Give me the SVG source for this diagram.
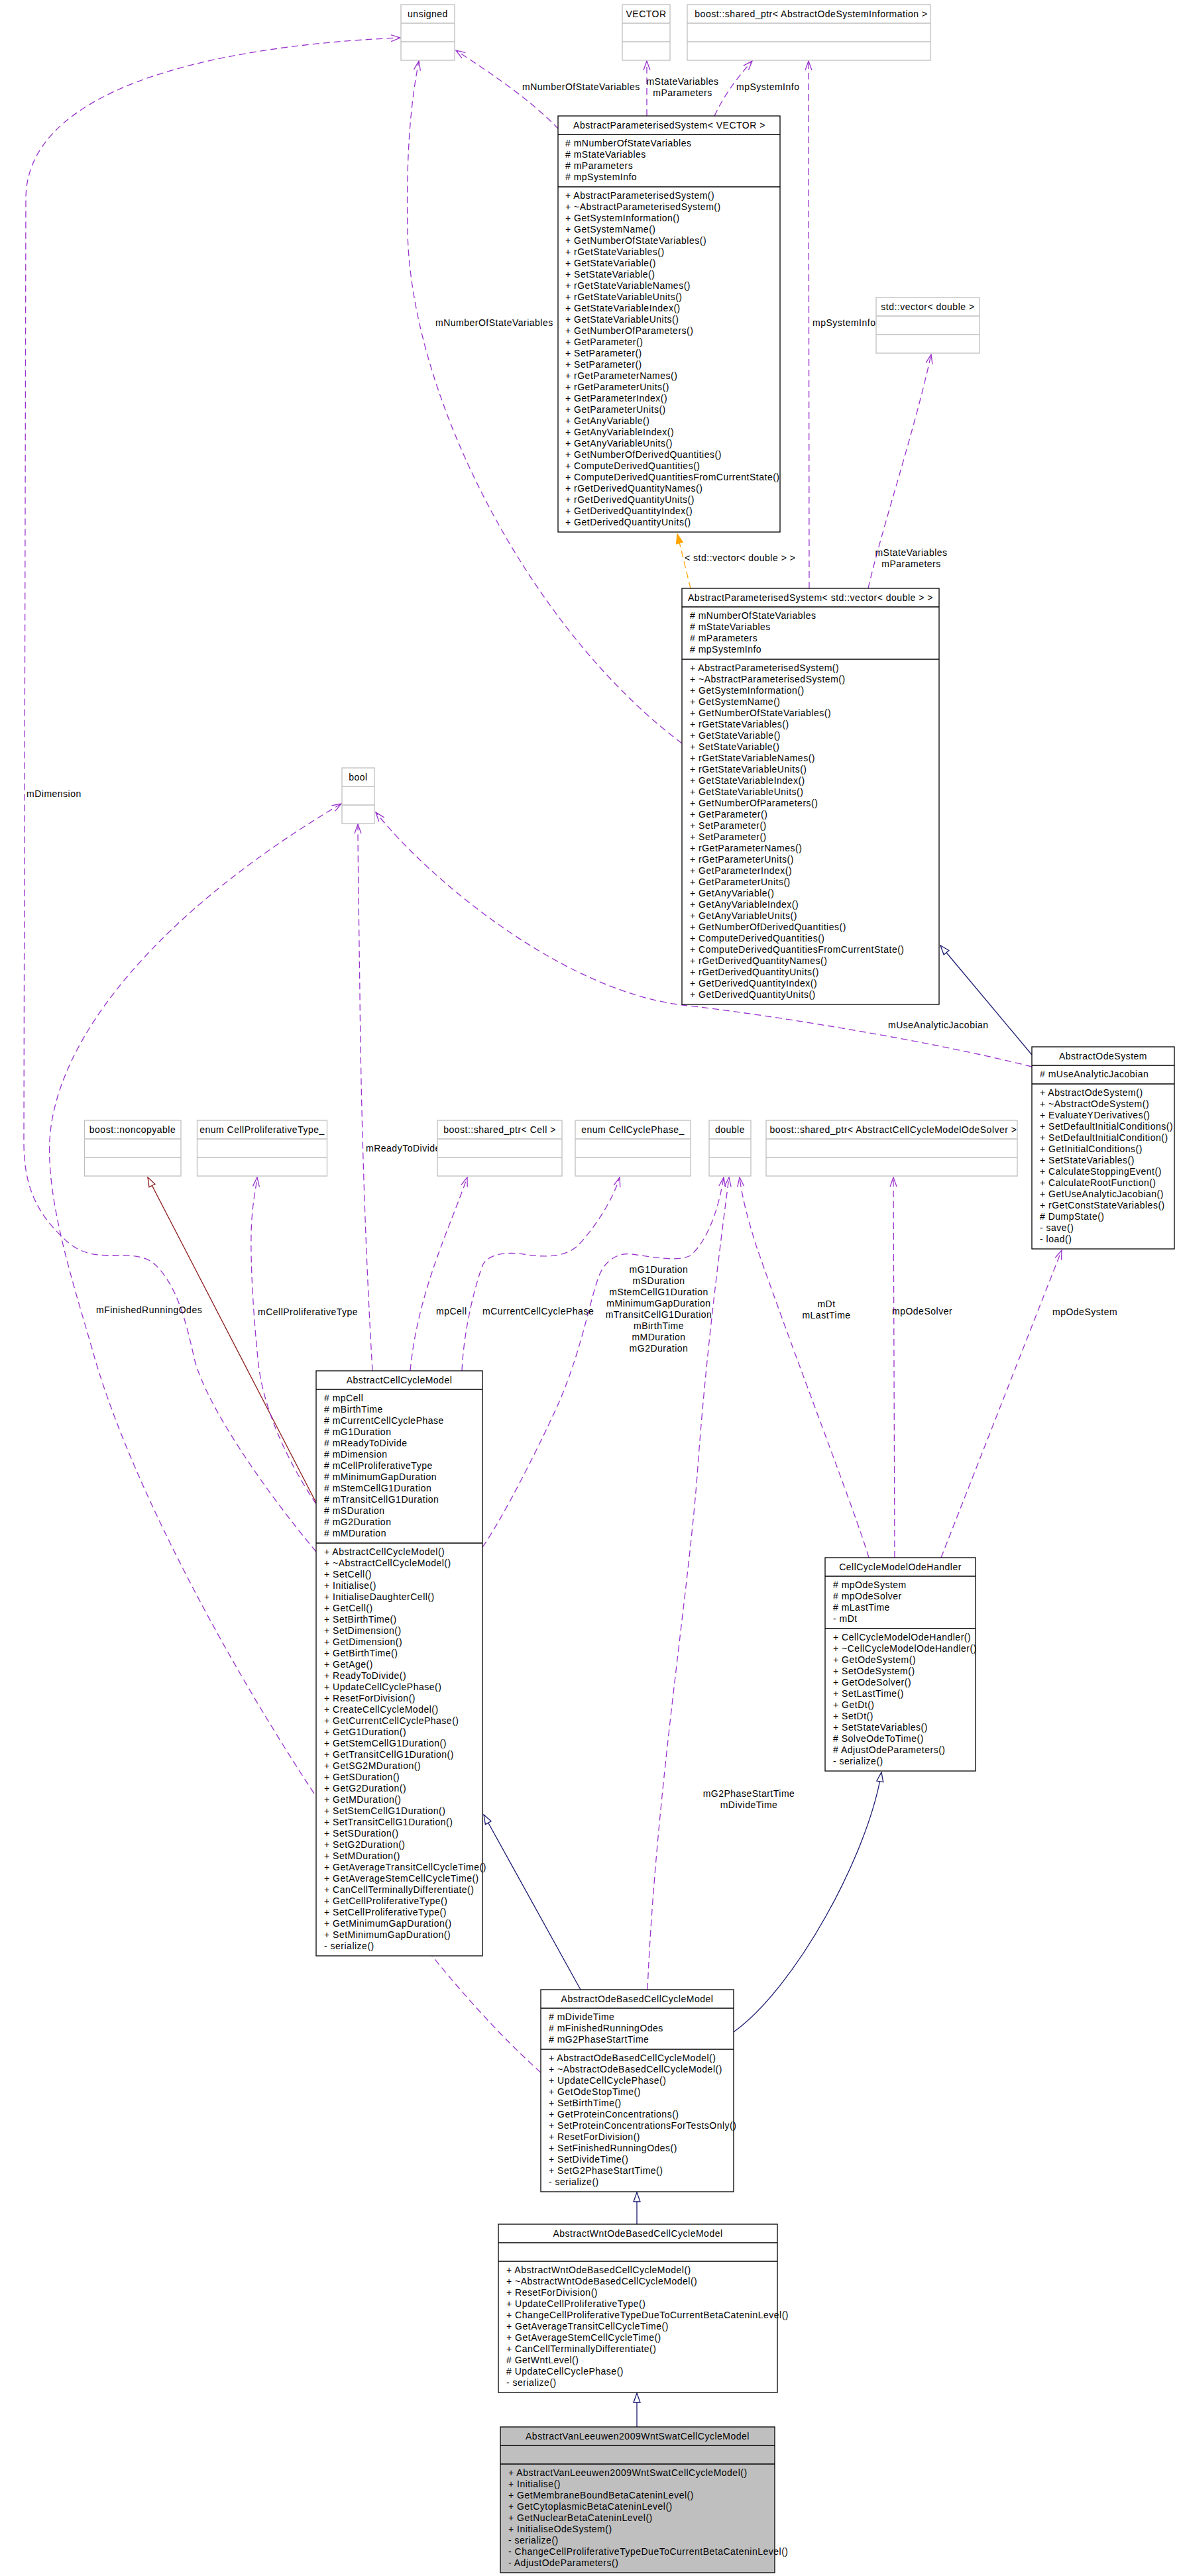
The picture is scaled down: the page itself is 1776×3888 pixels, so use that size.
<svg xmlns="http://www.w3.org/2000/svg" width="1776" height="3888" viewBox="0 0 1776 3888">
<style>
.t{font-family:"Liberation Sans",Arial,sans-serif;font-size:14px;letter-spacing:0.5px;fill:#000}
.m{text-anchor:middle}
.b{fill:#fff;stroke:#000;stroke-width:1.3}
.g{fill:#fff;stroke:#bfbfbf;stroke-width:1.3}
.gf{fill:#bfbfbf;stroke:#000;stroke-width:1.3}
.lk{stroke:#000;stroke-width:1.3}
.lg{stroke:#bfbfbf;stroke-width:1.3}
.u{fill:none;stroke:#9a32cd;stroke-width:1.3;stroke-dasharray:10,6;marker-end:url(#vee)}
.i{fill:none;stroke:#191970;stroke-width:1.3;marker-end:url(#tri)}
.r{fill:none;stroke:#8b1a1a;stroke-width:1.3;marker-end:url(#trir)}
.o{fill:none;stroke:#ffa500;stroke-width:1.3;stroke-dasharray:10,6;marker-end:url(#org)}
</style>
<defs>
<marker id="vee" markerUnits="userSpaceOnUse" viewBox="0 0 16 12" markerWidth="16" markerHeight="12" refX="15" refY="6" orient="auto"><path d="M1,1 L15,6 L1,11" fill="none" stroke="#9a32cd" stroke-width="1.3"/></marker>
<marker id="tri" markerUnits="userSpaceOnUse" viewBox="0 0 16 12" markerWidth="16" markerHeight="12" refX="15" refY="6" orient="auto"><path d="M1,1 L15,6 L1,11 Z" fill="#fff" stroke="#191970" stroke-width="1.3"/></marker>
<marker id="trir" markerUnits="userSpaceOnUse" viewBox="0 0 16 12" markerWidth="16" markerHeight="12" refX="15" refY="6" orient="auto"><path d="M1,1 L15,6 L1,11 Z" fill="#fff" stroke="#8b1a1a" stroke-width="1.3"/></marker>
<marker id="org" markerUnits="userSpaceOnUse" viewBox="0 0 16 12" markerWidth="16" markerHeight="12" refX="15" refY="6" orient="auto"><path d="M1,1 L15,6 L1,11 Z" fill="#ffa500" stroke="#ffa500" stroke-width="1.3"/></marker>
</defs>
<rect width="1776" height="3888" fill="#fff"/>

<g id="connectors">
<path class="u" d="M843,195 C800,150 740,110 688,76"/>
<path class="u" d="M976,175 L976,92"/>
<path class="u" d="M1078,175 C1092,145 1110,120 1135,92"/>
<path class="o" d="M1042,888 C1035,860 1028,830 1022,806"/>
<path class="u" d="M1221,888 L1220,92"/>
<path class="u" d="M1310,888 C1330,800 1380,650 1405,535"/>
<path class="u" d="M1029,1122 C800,950 620,600 615,350 C612,200 625,130 632,92"/>
<path class="u" d="M477,2342 C400,2250 310,2120 293,2050 C280,1990 265,1935 230,1905 C190,1880 140,1915 95,1868 C55,1830 36,1790 36,1724 L39,300 C39,140 300,70 604,57"/>
<path class="u" d="M816,3128 C560,2900 230,2350 143,2050 C115,1950 70,1820 75,1720 C85,1560 250,1370 515,1213"/>
<path class="u" d="M1557,1610 C1400,1570 1150,1530 1030,1517 C850,1495 650,1330 567,1226"/>
<path class="i" d="M1557,1592 L1419,1427"/>
<path class="r" d="M477,2268 L223,1777"/>
<path class="u" d="M477,2270 C430,2200 395,2120 389,2050 C380,1960 377,1880 380,1840 C382,1810 386,1795 388,1777"/>
<path class="u" d="M562,2069 C552,1900 545,1700 543,1500 C541,1350 540,1280 540,1244"/>
<path class="u" d="M619,2069 C630,1950 680,1850 705,1777"/>
<path class="u" d="M697,2069 C700,2000 720,1930 729,1908 C740,1890 770,1890 790,1893 C815,1897 850,1900 872,1880 C900,1850 925,1810 935,1777"/>
<path class="u" d="M728,2335 C760,2290 820,2170 845,2113 C880,2030 890,1960 905,1923 C915,1900 935,1890 954,1893 C985,1897 1020,1905 1042,1895 C1070,1870 1085,1820 1092,1777"/>
<path class="u" d="M977,3003 C990,2700 1040,2400 1053,2213 C1065,2050 1084,1900 1100,1777"/>
<path class="u" d="M1311,2351 C1290,2280 1200,2050 1141,1880 C1130,1845 1120,1810 1116,1777"/>
<path class="u" d="M1350,2351 L1348,1777"/>
<path class="u" d="M1420,2351 L1602,1887"/>
<path class="i" d="M876,3003 L730,2739"/>
<path class="i" d="M1107,3067 C1200,3000 1310,2800 1330,2675"/>
<path class="i" d="M961,3357 L961,3309"/>
<path class="i" d="M961,3663 L961,3612"/>
</g>

<g id="labels">
<text class="t" x="788" y="136">mNumberOfStateVariables</text>
<text class="t m" x="1030" y="128">mStateVariables</text>
<text class="t m" x="1030" y="145">mParameters</text>
<text class="t" x="1111" y="136">mpSystemInfo</text>
<text class="t" x="657" y="492">mNumberOfStateVariables</text>
<text class="t" x="1226" y="492">mpSystemInfo</text>
<text class="t m" x="1375" y="839">mStateVariables</text>
<text class="t m" x="1375" y="856">mParameters</text>
<text class="t" x="1033" y="847">&lt; std::vector&lt; double &gt; &gt;</text>
<text class="t" x="40" y="1203">mDimension</text>
<text class="t" x="1340" y="1552">mUseAnalyticJacobian</text>
<text class="t" x="552" y="1738">mReadyToDivide</text>
<text class="t" x="145" y="1982">mFinishedRunningOdes</text>
<text class="t" x="389" y="1985">mCellProliferativeType</text>
<text class="t" x="658" y="1984">mpCell</text>
<text class="t" x="728" y="1984">mCurrentCellCyclePhase</text>
<text class="t m" x="994" y="1921">mG1Duration</text>
<text class="t m" x="994" y="1938">mSDuration</text>
<text class="t m" x="994" y="1955">mStemCellG1Duration</text>
<text class="t m" x="994" y="1972">mMinimumGapDuration</text>
<text class="t m" x="994" y="1989">mTransitCellG1Duration</text>
<text class="t m" x="994" y="2006">mBirthTime</text>
<text class="t m" x="994" y="2023">mMDuration</text>
<text class="t m" x="994" y="2040">mG2Duration</text>
<text class="t m" x="1247" y="1973">mDt</text>
<text class="t m" x="1247" y="1990">mLastTime</text>
<text class="t" x="1346" y="1984">mpOdeSolver</text>
<text class="t" x="1588" y="1985">mpOdeSystem</text>
<text class="t m" x="1130" y="2712">mG2PhaseStartTime</text>
<text class="t m" x="1130" y="2729">mDivideTime</text>
</g>

<g id="unsigned">
<rect class="g" x="605" y="7" width="81" height="84"/>
<line class="lg" x1="605" y1="35" x2="686" y2="35"/><line class="lg" x1="605" y1="63" x2="686" y2="63"/>
<text class="t m" x="645.5" y="26">unsigned</text>
</g>
<g id="VECTOR">
<rect class="g" x="939" y="7" width="72" height="84"/>
<line class="lg" x1="939" y1="35" x2="1011" y2="35"/><line class="lg" x1="939" y1="63" x2="1011" y2="63"/>
<text class="t m" x="975" y="26">VECTOR</text>
</g>
<g id="sharedptr_AOSI">
<rect class="g" x="1037" y="7" width="367" height="84"/>
<line class="lg" x1="1037" y1="35" x2="1404" y2="35"/><line class="lg" x1="1037" y1="63" x2="1404" y2="63"/>
<text class="t m" x="1224" y="26">boost::shared_ptr&lt; AbstractOdeSystemInformation &gt;</text>
</g>

<g id="APS_VECTOR">
<rect class="b" x="842" y="175" width="335" height="628"/>
<line class="lk" x1="842" y1="203" x2="1177" y2="203"/><line class="lk" x1="842" y1="282" x2="1177" y2="282"/>
<text class="t m" x="1010" y="194">AbstractParameterisedSystem&lt; VECTOR &gt;</text>
<text class="t" x="853" y="221"><tspan x="853"># mNumberOfStateVariables</tspan><tspan x="853" dy="17"># mStateVariables</tspan><tspan x="853" dy="17"># mParameters</tspan><tspan x="853" dy="17"># mpSystemInfo</tspan></text>
<text class="t" x="853" y="300"><tspan x="853">+ AbstractParameterisedSystem()</tspan><tspan x="853" dy="17">+ ~AbstractParameterisedSystem()</tspan><tspan x="853" dy="17">+ GetSystemInformation()</tspan><tspan x="853" dy="17">+ GetSystemName()</tspan><tspan x="853" dy="17">+ GetNumberOfStateVariables()</tspan><tspan x="853" dy="17">+ rGetStateVariables()</tspan><tspan x="853" dy="17">+ GetStateVariable()</tspan><tspan x="853" dy="17">+ SetStateVariable()</tspan><tspan x="853" dy="17">+ rGetStateVariableNames()</tspan><tspan x="853" dy="17">+ rGetStateVariableUnits()</tspan><tspan x="853" dy="17">+ GetStateVariableIndex()</tspan><tspan x="853" dy="17">+ GetStateVariableUnits()</tspan><tspan x="853" dy="17">+ GetNumberOfParameters()</tspan><tspan x="853" dy="17">+ GetParameter()</tspan><tspan x="853" dy="17">+ SetParameter()</tspan><tspan x="853" dy="17">+ SetParameter()</tspan><tspan x="853" dy="17">+ rGetParameterNames()</tspan><tspan x="853" dy="17">+ rGetParameterUnits()</tspan><tspan x="853" dy="17">+ GetParameterIndex()</tspan><tspan x="853" dy="17">+ GetParameterUnits()</tspan><tspan x="853" dy="17">+ GetAnyVariable()</tspan><tspan x="853" dy="17">+ GetAnyVariableIndex()</tspan><tspan x="853" dy="17">+ GetAnyVariableUnits()</tspan><tspan x="853" dy="17">+ GetNumberOfDerivedQuantities()</tspan><tspan x="853" dy="17">+ ComputeDerivedQuantities()</tspan><tspan x="853" dy="17">+ ComputeDerivedQuantitiesFromCurrentState()</tspan><tspan x="853" dy="17">+ rGetDerivedQuantityNames()</tspan><tspan x="853" dy="17">+ rGetDerivedQuantityUnits()</tspan><tspan x="853" dy="17">+ GetDerivedQuantityIndex()</tspan><tspan x="853" dy="17">+ GetDerivedQuantityUnits()</tspan></text>
</g>

<g id="std_vector_double">
<rect class="g" x="1322" y="449" width="156" height="84"/>
<line class="lg" x1="1322" y1="477" x2="1478" y2="477"/><line class="lg" x1="1322" y1="505" x2="1478" y2="505"/>
<text class="t m" x="1400" y="468">std::vector&lt; double &gt;</text>
</g>

<g id="APS_std_vector">
<rect class="b" x="1029" y="888" width="388" height="628"/>
<line class="lk" x1="1029" y1="916" x2="1417" y2="916"/><line class="lk" x1="1029" y1="995" x2="1417" y2="995"/>
<text class="t m" x="1223" y="907">AbstractParameterisedSystem&lt; std::vector&lt; double &gt; &gt;</text>
<text class="t" x="1041" y="934"><tspan x="1041"># mNumberOfStateVariables</tspan><tspan x="1041" dy="17"># mStateVariables</tspan><tspan x="1041" dy="17"># mParameters</tspan><tspan x="1041" dy="17"># mpSystemInfo</tspan></text>
<text class="t" x="1041" y="1013"><tspan x="1041">+ AbstractParameterisedSystem()</tspan><tspan x="1041" dy="17">+ ~AbstractParameterisedSystem()</tspan><tspan x="1041" dy="17">+ GetSystemInformation()</tspan><tspan x="1041" dy="17">+ GetSystemName()</tspan><tspan x="1041" dy="17">+ GetNumberOfStateVariables()</tspan><tspan x="1041" dy="17">+ rGetStateVariables()</tspan><tspan x="1041" dy="17">+ GetStateVariable()</tspan><tspan x="1041" dy="17">+ SetStateVariable()</tspan><tspan x="1041" dy="17">+ rGetStateVariableNames()</tspan><tspan x="1041" dy="17">+ rGetStateVariableUnits()</tspan><tspan x="1041" dy="17">+ GetStateVariableIndex()</tspan><tspan x="1041" dy="17">+ GetStateVariableUnits()</tspan><tspan x="1041" dy="17">+ GetNumberOfParameters()</tspan><tspan x="1041" dy="17">+ GetParameter()</tspan><tspan x="1041" dy="17">+ SetParameter()</tspan><tspan x="1041" dy="17">+ SetParameter()</tspan><tspan x="1041" dy="17">+ rGetParameterNames()</tspan><tspan x="1041" dy="17">+ rGetParameterUnits()</tspan><tspan x="1041" dy="17">+ GetParameterIndex()</tspan><tspan x="1041" dy="17">+ GetParameterUnits()</tspan><tspan x="1041" dy="17">+ GetAnyVariable()</tspan><tspan x="1041" dy="17">+ GetAnyVariableIndex()</tspan><tspan x="1041" dy="17">+ GetAnyVariableUnits()</tspan><tspan x="1041" dy="17">+ GetNumberOfDerivedQuantities()</tspan><tspan x="1041" dy="17">+ ComputeDerivedQuantities()</tspan><tspan x="1041" dy="17">+ ComputeDerivedQuantitiesFromCurrentState()</tspan><tspan x="1041" dy="17">+ rGetDerivedQuantityNames()</tspan><tspan x="1041" dy="17">+ rGetDerivedQuantityUnits()</tspan><tspan x="1041" dy="17">+ GetDerivedQuantityIndex()</tspan><tspan x="1041" dy="17">+ GetDerivedQuantityUnits()</tspan></text>
</g>

<g id="bool">
<rect class="g" x="516" y="1159" width="49" height="84"/>
<line class="lg" x1="516" y1="1187" x2="565" y2="1187"/><line class="lg" x1="516" y1="1215" x2="565" y2="1215"/>
<text class="t m" x="540.5" y="1178">bool</text>
</g>

<g id="AbstractOdeSystem">
<rect class="b" x="1557" y="1580" width="215" height="305"/>
<line class="lk" x1="1557" y1="1608" x2="1772" y2="1608"/><line class="lk" x1="1557" y1="1636" x2="1772" y2="1636"/>
<text class="t m" x="1664.5" y="1599">AbstractOdeSystem</text>
<text class="t" x="1569" y="1626"># mUseAnalyticJacobian</text>
<text class="t" x="1569" y="1654"><tspan x="1569">+ AbstractOdeSystem()</tspan><tspan x="1569" dy="17">+ ~AbstractOdeSystem()</tspan><tspan x="1569" dy="17">+ EvaluateYDerivatives()</tspan><tspan x="1569" dy="17">+ SetDefaultInitialConditions()</tspan><tspan x="1569" dy="17">+ SetDefaultInitialCondition()</tspan><tspan x="1569" dy="17">+ GetInitialConditions()</tspan><tspan x="1569" dy="17">+ SetStateVariables()</tspan><tspan x="1569" dy="17">+ CalculateStoppingEvent()</tspan><tspan x="1569" dy="17">+ CalculateRootFunction()</tspan><tspan x="1569" dy="17">+ GetUseAnalyticJacobian()</tspan><tspan x="1569" dy="17">+ rGetConstStateVariables()</tspan><tspan x="1569" dy="17"># DumpState()</tspan><tspan x="1569" dy="17">- save()</tspan><tspan x="1569" dy="17">- load()</tspan></text>
</g>

<g id="noncopyable">
<rect class="g" x="127.5" y="1691" width="145.5" height="84"/>
<line class="lg" x1="127.5" y1="1719" x2="273" y2="1719"/><line class="lg" x1="127.5" y1="1747" x2="273" y2="1747"/>
<text class="t m" x="200" y="1710">boost::noncopyable</text>
</g>
<g id="enum_CellProliferativeType">
<rect class="g" x="297.5" y="1691" width="196" height="84"/>
<line class="lg" x1="297.5" y1="1719" x2="493.5" y2="1719"/><line class="lg" x1="297.5" y1="1747" x2="493.5" y2="1747"/>
<text class="t m" x="395.5" y="1710">enum CellProliferativeType_</text>
</g>
<g id="sharedptr_Cell">
<rect class="g" x="660" y="1691" width="188" height="84"/>
<line class="lg" x1="660" y1="1719" x2="848" y2="1719"/><line class="lg" x1="660" y1="1747" x2="848" y2="1747"/>
<text class="t m" x="754" y="1710">boost::shared_ptr&lt; Cell &gt;</text>
</g>
<g id="enum_CellCyclePhase">
<rect class="g" x="868" y="1691" width="174" height="84"/>
<line class="lg" x1="868" y1="1719" x2="1042" y2="1719"/><line class="lg" x1="868" y1="1747" x2="1042" y2="1747"/>
<text class="t m" x="955" y="1710">enum CellCyclePhase_</text>
</g>
<g id="double">
<rect class="g" x="1070" y="1691" width="63" height="84"/>
<line class="lg" x1="1070" y1="1719" x2="1133" y2="1719"/><line class="lg" x1="1070" y1="1747" x2="1133" y2="1747"/>
<text class="t m" x="1101.5" y="1710">double</text>
</g>
<g id="sharedptr_Solver">
<rect class="g" x="1156" y="1691" width="379" height="84"/>
<line class="lg" x1="1156" y1="1719" x2="1535" y2="1719"/><line class="lg" x1="1156" y1="1747" x2="1535" y2="1747"/>
<text class="t m" x="1348" y="1710">boost::shared_ptr&lt; AbstractCellCycleModelOdeSolver &gt;</text>
</g>

<g id="AbstractCellCycleModel">
<rect class="b" x="477" y="2069" width="251" height="883"/>
<line class="lk" x1="477" y1="2097" x2="728" y2="2097"/><line class="lk" x1="477" y1="2329" x2="728" y2="2329"/>
<text class="t m" x="602.5" y="2088">AbstractCellCycleModel</text>
<text class="t" x="489" y="2115"><tspan x="489"># mpCell</tspan><tspan x="489" dy="17"># mBirthTime</tspan><tspan x="489" dy="17"># mCurrentCellCyclePhase</tspan><tspan x="489" dy="17"># mG1Duration</tspan><tspan x="489" dy="17"># mReadyToDivide</tspan><tspan x="489" dy="17"># mDimension</tspan><tspan x="489" dy="17"># mCellProliferativeType</tspan><tspan x="489" dy="17"># mMinimumGapDuration</tspan><tspan x="489" dy="17"># mStemCellG1Duration</tspan><tspan x="489" dy="17"># mTransitCellG1Duration</tspan><tspan x="489" dy="17"># mSDuration</tspan><tspan x="489" dy="17"># mG2Duration</tspan><tspan x="489" dy="17"># mMDuration</tspan></text>
<text class="t" x="489" y="2347"><tspan x="489">+ AbstractCellCycleModel()</tspan><tspan x="489" dy="17">+ ~AbstractCellCycleModel()</tspan><tspan x="489" dy="17">+ SetCell()</tspan><tspan x="489" dy="17">+ Initialise()</tspan><tspan x="489" dy="17">+ InitialiseDaughterCell()</tspan><tspan x="489" dy="17">+ GetCell()</tspan><tspan x="489" dy="17">+ SetBirthTime()</tspan><tspan x="489" dy="17">+ SetDimension()</tspan><tspan x="489" dy="17">+ GetDimension()</tspan><tspan x="489" dy="17">+ GetBirthTime()</tspan><tspan x="489" dy="17">+ GetAge()</tspan><tspan x="489" dy="17">+ ReadyToDivide()</tspan><tspan x="489" dy="17">+ UpdateCellCyclePhase()</tspan><tspan x="489" dy="17">+ ResetForDivision()</tspan><tspan x="489" dy="17">+ CreateCellCycleModel()</tspan><tspan x="489" dy="17">+ GetCurrentCellCyclePhase()</tspan><tspan x="489" dy="17">+ GetG1Duration()</tspan><tspan x="489" dy="17">+ GetStemCellG1Duration()</tspan><tspan x="489" dy="17">+ GetTransitCellG1Duration()</tspan><tspan x="489" dy="17">+ GetSG2MDuration()</tspan><tspan x="489" dy="17">+ GetSDuration()</tspan><tspan x="489" dy="17">+ GetG2Duration()</tspan><tspan x="489" dy="17">+ GetMDuration()</tspan><tspan x="489" dy="17">+ SetStemCellG1Duration()</tspan><tspan x="489" dy="17">+ SetTransitCellG1Duration()</tspan><tspan x="489" dy="17">+ SetSDuration()</tspan><tspan x="489" dy="17">+ SetG2Duration()</tspan><tspan x="489" dy="17">+ SetMDuration()</tspan><tspan x="489" dy="17">+ GetAverageTransitCellCycleTime()</tspan><tspan x="489" dy="17">+ GetAverageStemCellCycleTime()</tspan><tspan x="489" dy="17">+ CanCellTerminallyDifferentiate()</tspan><tspan x="489" dy="17">+ GetCellProliferativeType()</tspan><tspan x="489" dy="17">+ SetCellProliferativeType()</tspan><tspan x="489" dy="17">+ GetMinimumGapDuration()</tspan><tspan x="489" dy="17">+ SetMinimumGapDuration()</tspan><tspan x="489" dy="17">- serialize()</tspan></text>
</g>

<g id="CellCycleModelOdeHandler">
<rect class="b" x="1245" y="2351" width="227" height="322"/>
<line class="lk" x1="1245" y1="2379" x2="1472" y2="2379"/><line class="lk" x1="1245" y1="2458" x2="1472" y2="2458"/>
<text class="t m" x="1358.5" y="2370">CellCycleModelOdeHandler</text>
<text class="t" x="1257" y="2397"><tspan x="1257"># mpOdeSystem</tspan><tspan x="1257" dy="17"># mpOdeSolver</tspan><tspan x="1257" dy="17"># mLastTime</tspan><tspan x="1257" dy="17">- mDt</tspan></text>
<text class="t" x="1257" y="2476"><tspan x="1257">+ CellCycleModelOdeHandler()</tspan><tspan x="1257" dy="17">+ ~CellCycleModelOdeHandler()</tspan><tspan x="1257" dy="17">+ GetOdeSystem()</tspan><tspan x="1257" dy="17">+ SetOdeSystem()</tspan><tspan x="1257" dy="17">+ GetOdeSolver()</tspan><tspan x="1257" dy="17">+ SetLastTime()</tspan><tspan x="1257" dy="17">+ GetDt()</tspan><tspan x="1257" dy="17">+ SetDt()</tspan><tspan x="1257" dy="17">+ SetStateVariables()</tspan><tspan x="1257" dy="17"># SolveOdeToTime()</tspan><tspan x="1257" dy="17"># AdjustOdeParameters()</tspan><tspan x="1257" dy="17">- serialize()</tspan></text>
</g>

<g id="AbstractOdeBasedCellCycleModel">
<rect class="b" x="816" y="3003" width="291" height="305"/>
<line class="lk" x1="816" y1="3031" x2="1107" y2="3031"/><line class="lk" x1="816" y1="3093" x2="1107" y2="3093"/>
<text class="t m" x="961.5" y="3022">AbstractOdeBasedCellCycleModel</text>
<text class="t" x="828" y="3049"><tspan x="828"># mDivideTime</tspan><tspan x="828" dy="17"># mFinishedRunningOdes</tspan><tspan x="828" dy="17"># mG2PhaseStartTime</tspan></text>
<text class="t" x="828" y="3111"><tspan x="828">+ AbstractOdeBasedCellCycleModel()</tspan><tspan x="828" dy="17">+ ~AbstractOdeBasedCellCycleModel()</tspan><tspan x="828" dy="17">+ UpdateCellCyclePhase()</tspan><tspan x="828" dy="17">+ GetOdeStopTime()</tspan><tspan x="828" dy="17">+ SetBirthTime()</tspan><tspan x="828" dy="17">+ GetProteinConcentrations()</tspan><tspan x="828" dy="17">+ SetProteinConcentrationsForTestsOnly()</tspan><tspan x="828" dy="17">+ ResetForDivision()</tspan><tspan x="828" dy="17">+ SetFinishedRunningOdes()</tspan><tspan x="828" dy="17">+ SetDivideTime()</tspan><tspan x="828" dy="17">+ SetG2PhaseStartTime()</tspan><tspan x="828" dy="17">- serialize()</tspan></text>
</g>

<g id="AbstractWntOdeBasedCellCycleModel">
<rect class="b" x="752" y="3357" width="421" height="254"/>
<line class="lk" x1="752" y1="3385" x2="1173" y2="3385"/><line class="lk" x1="752" y1="3413" x2="1173" y2="3413"/>
<text class="t m" x="962.5" y="3376">AbstractWntOdeBasedCellCycleModel</text>
<text class="t" x="764" y="3431"><tspan x="764">+ AbstractWntOdeBasedCellCycleModel()</tspan><tspan x="764" dy="17">+ ~AbstractWntOdeBasedCellCycleModel()</tspan><tspan x="764" dy="17">+ ResetForDivision()</tspan><tspan x="764" dy="17">+ UpdateCellProliferativeType()</tspan><tspan x="764" dy="17">+ ChangeCellProliferativeTypeDueToCurrentBetaCateninLevel()</tspan><tspan x="764" dy="17">+ GetAverageTransitCellCycleTime()</tspan><tspan x="764" dy="17">+ GetAverageStemCellCycleTime()</tspan><tspan x="764" dy="17">+ CanCellTerminallyDifferentiate()</tspan><tspan x="764" dy="17"># GetWntLevel()</tspan><tspan x="764" dy="17"># UpdateCellCyclePhase()</tspan><tspan x="764" dy="17">- serialize()</tspan></text>
</g>

<g id="AbstractVanLeeuwen2009WntSwatCellCycleModel">
<rect class="gf" x="755" y="3663" width="414" height="220"/>
<line class="lk" x1="755" y1="3691" x2="1169" y2="3691"/><line class="lk" x1="755" y1="3719" x2="1169" y2="3719"/>
<text class="t m" x="962" y="3682">AbstractVanLeeuwen2009WntSwatCellCycleModel</text>
<text class="t" x="767" y="3737"><tspan x="767">+ AbstractVanLeeuwen2009WntSwatCellCycleModel()</tspan><tspan x="767" dy="17">+ Initialise()</tspan><tspan x="767" dy="17">+ GetMembraneBoundBetaCateninLevel()</tspan><tspan x="767" dy="17">+ GetCytoplasmicBetaCateninLevel()</tspan><tspan x="767" dy="17">+ GetNuclearBetaCateninLevel()</tspan><tspan x="767" dy="17">+ InitialiseOdeSystem()</tspan><tspan x="767" dy="17">- serialize()</tspan><tspan x="767" dy="17">- ChangeCellProliferativeTypeDueToCurrentBetaCateninLevel()</tspan><tspan x="767" dy="17">- AdjustOdeParameters()</tspan></text>
</g>
</svg>
